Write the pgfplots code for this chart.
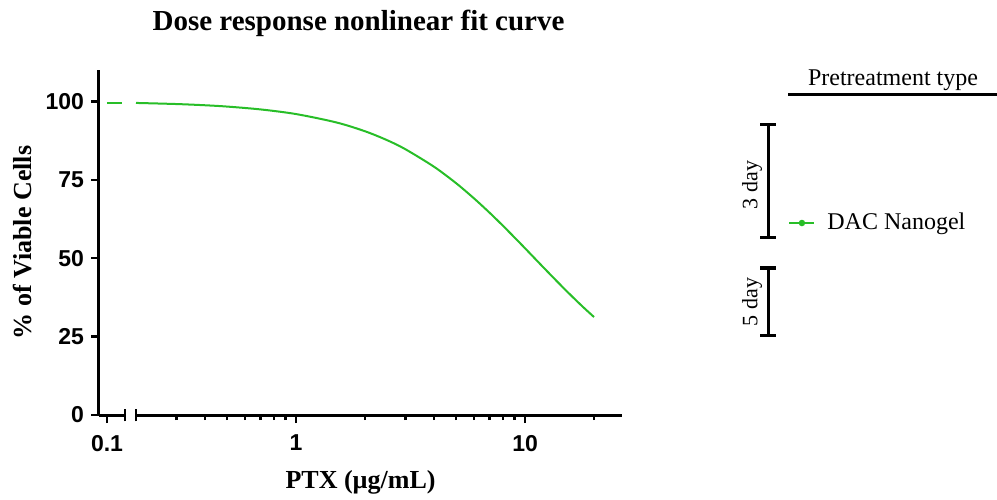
\documentclass[border=0pt]{standalone}
\usepackage{fontspec}
\setmainfont{Liberation Serif}
\setsansfont{Liberation Sans}
\usepackage{pgfplots}
\pgfplotsset{compat=1.18}
\definecolor{curvegreen}{RGB}{40,190,40}
\pgfplotsset{
  prism/.style={
    scale only axis, height=172.5pt, ymin=0, ymax=110,
    axis line style={line width=1.5pt,-},
    tick align=outside, major tick length=4pt, minor tick length=2.5pt,
    tick style={black, line width=1.2pt},
    tick label style={font=\sffamily\bfseries\fontsize{11.5}{12}\selectfont},
    xticklabel style={yshift=-2.5pt},
    clip=false,
  }
}
\begin{document}
\begin{tikzpicture}
\useasboundingbox (0pt,0pt) rectangle (498.5pt,249.5pt);
% left segment of the broken x axis
\begin{axis}[prism, xmode=log, /pgf/number format/assume math mode=true,
  at={(49.5pt,42pt)}, anchor=south west, width=13pt,
  xmin=0.0923, xmax=0.1198,
  axis x line*=bottom, axis y line*=left,
  xtick={0.1}, xticklabels={0.1}, minor xtick={},
  ytick={0,25,50,75,100},
  ylabel={\% of Viable Cells},
  ylabel style={font=\bfseries\fontsize{13}{14}\selectfont, xshift=0pt},
]
\addplot[curvegreen, line width=1pt] coordinates {(0.1,99.6) (0.116,99.6)};
\draw[line width=1.2pt] (axis cs:0.1198,0) ++(0pt,-3.2pt) -- ++(0pt,6.4pt);
\end{axis}
% right segment
\begin{axis}[prism, xmode=log, /pgf/number format/assume math mode=true,
  at={(68pt,42pt)}, anchor=south west, width=243pt,
  xmin=0.2, xmax=26.5,
  axis x line*=bottom, axis y line=none,
  xtick={1,10}, xticklabels={1,10},
  minor xtick={0.3,0.4,0.5,0.6,0.7,0.8,0.9,2,3,4,5,6,7,8,9,20},
  ytick=\empty,
  xlabel={PTX (µg/mL)},
  xlabel style={font=\bfseries\fontsize{13}{14}\selectfont, at={(axis description cs:0.462,-0.194)}, anchor=center},
  title={Dose response nonlinear fit curve},
  title style={font=\bfseries\fontsize{14.5}{16}\selectfont, at={(axis description cs:0.458,1.136)}, anchor=center, yshift=-6pt},
  legend style={at={(axis description cs:1.3416,0.5565)}, anchor=west, draw=none, fill=none, inner sep=0pt,
    font=\fontsize{12}{14}\selectfont},
  legend cell align=left,
  legend image code/.code={\draw[curvegreen, line width=1pt] (0pt,0pt) -- (12.5pt,0pt); \fill[curvegreen] (6.25pt,0pt) circle (1.1pt);},
]
\addplot[curvegreen, line width=1pt, smooth] coordinates {
(0.2,99.50) (0.3,99.15) (0.4,98.76) (0.5,98.34) (0.7,97.43) (1,95.95)
(1.5,93.28) (2,90.47) (2.5,87.61) (3,84.75) (4,79.17) (5,73.90) (6,68.99)
(7,64.49) (8,60.36) (9,56.58) (10,53.15) (12,47.13) (14,42.11) (16,37.88)
(18,34.29) (20,31.24)};
\addlegendentry{\hspace{4pt}DAC Nanogel}
\draw[line width=1.2pt] (axis cs:0.2,0) ++(0pt,-3.2pt) -- ++(0pt,6.4pt);
\end{axis}
% legend grouping annotations
\begin{scope}[x=0.5pt,y=0.5pt]
\node[font=\fontsize{12}{14}\selectfont] at (893,419) {Pretreatment type};
\draw[line width=1.5pt] (788,404) -- (997,404);
\draw[line width=1.5pt] (768,374) -- (768,261);
\draw[line width=1.5pt] (760,374) -- (776,374);
\draw[line width=1.5pt] (760,261) -- (776,261);
\node[rotate=90, font=\fontsize{11}{12}\selectfont] at (752,314) {3 day};
\draw[line width=1.5pt] (768,231) -- (768,164);
\draw[line width=1.5pt] (760,231) -- (776,231);
\draw[line width=1.5pt] (760,164) -- (776,164);
\node[rotate=90, font=\fontsize{11}{12}\selectfont] at (752,197) {5 day};
\end{scope}
\end{tikzpicture}
\end{document}
